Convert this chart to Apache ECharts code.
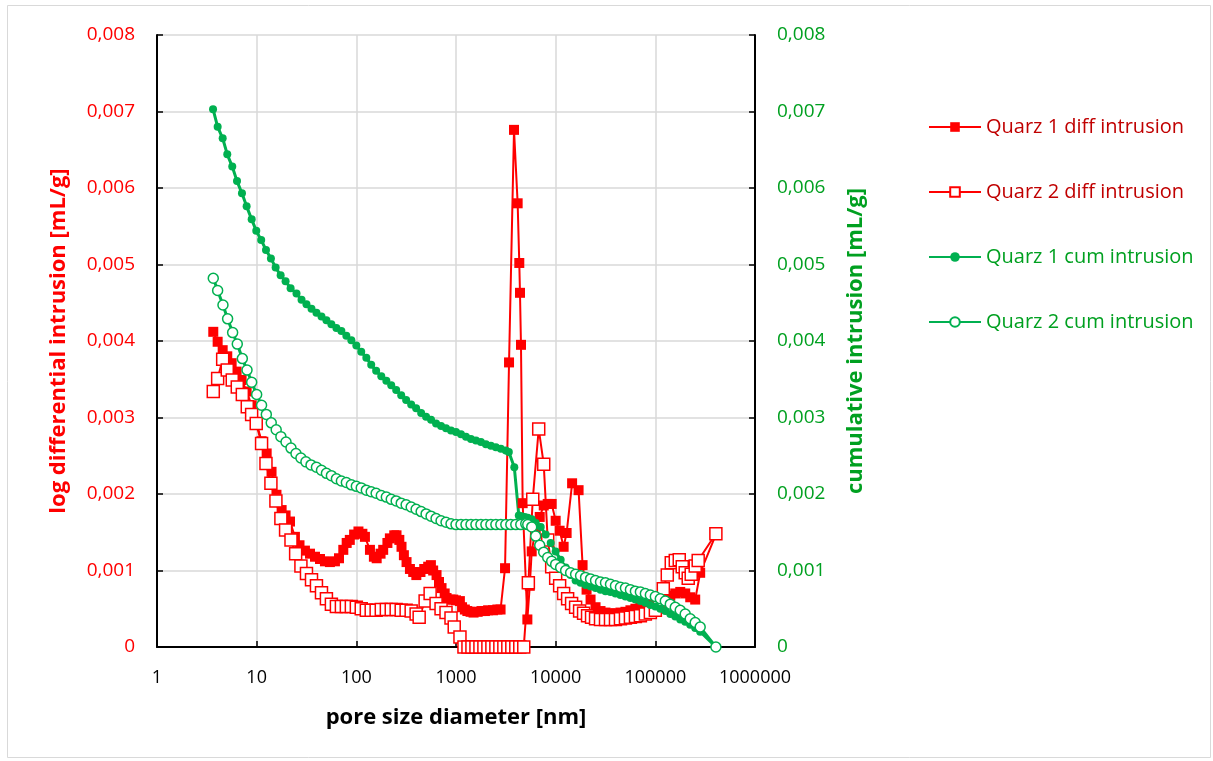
<!DOCTYPE html>
<html>
<head>
<meta charset="utf-8">
<script src="https://cdn.jsdelivr.net/npm/echarts@6/dist/echarts.min.js"></script>
<style>
  html, body { margin: 0; padding: 0; background: #fff; }
  #chart { width: 1213px; height: 761px; }
</style>
</head>
<body>
<div id="chart"></div>
<script>
// pore diameter [nm], value [mL/g]
const q1Diff = [[3.67,0.00412],[4.06,0.00399],[4.56,0.00388],[5.07,0.00380],[5.61,0.00371],[6.29,0.00360],[7.06,0.00349],[7.93,0.00334],[8.91,0.00316],[10.0,0.00292],[11.2,0.00269],[12.6,0.00253],[14.1,0.00229],[15.8,0.00199],[17.8,0.00179],[19.5,0.00172],[21.6,0.00164],[24.2,0.00144],[26.9,0.00133],[30.5,0.00126],[34.3,0.00122],[38.5,0.00118],[43.2,0.00115],[48.4,0.00112],[54.3,0.00111],[61,0.00112],[67,0.00116],[74,0.00127],[80,0.00136],[86,0.00140],[95,0.00147],[105,0.00151],[115,0.00148],[122,0.00144],[137,0.00127],[150,0.00118],[160,0.00116],[175,0.00122],[186,0.00127],[205,0.00136],[217,0.00142],[240,0.00146],[253,0.00146],[270,0.00140],[284,0.00131],[300,0.00120],[319,0.00111],[345,0.00102],[372,0.00098],[400,0.00094],[440,0.00098],[480,0.00102],[526,0.00105],[560,0.00107],[590,0.00100],[638,0.00094],[675,0.00085],[716,0.00077],[770,0.00070],[804,0.00064],[880,0.00062],[938,0.00062],[1000,0.00061],[1094,0.00060],[1150,0.00052],[1227,0.00049],[1300,0.00047],[1400,0.00046],[1500,0.00045],[1650,0.00046],[1800,0.00047],[1950,0.00047],[2100,0.00048],[2350,0.00048],[2600,0.00049],[2800,0.00049],[3105,0.00103],[3405,0.00372],[3820,0.00676],[4155,0.00580],[4315,0.00502],[4385,0.00463],[4487,0.00395],[4665,0.00188],[5200,0.00036],[5500,0.00080],[5750,0.00125],[6310,0.00155],[6920,0.00170],[7590,0.00185],[8320,0.00187],[9120,0.00187],[10000,0.00165],[10960,0.00152],[12020,0.00131],[12880,0.00149],[14620,0.00214],[16980,0.00205],[18620,0.00107],[20420,0.00075],[22390,0.00062],[25120,0.00052],[28180,0.00047],[31620,0.00045],[35480,0.00044],[39810,0.00044],[44670,0.00045],[50120,0.00046],[56230,0.00048],[63100,0.00050],[70790,0.00052],[79430,0.00054],[89130,0.00055],[100000,0.00056],[112200,0.00058],[125900,0.00063],[141300,0.00067],[158500,0.00070],[177800,0.00072],[199500,0.00070],[223900,0.00065],[251200,0.00062],[281800,0.00097],[405000,0.00147]];

const q2Diff = [[3.67,0.00334],[4.06,0.00351],[4.56,0.00376],[5.07,0.00362],[5.69,0.00349],[6.39,0.00340],[7.18,0.00330],[8.05,0.00314],[8.9,0.00304],[9.9,0.00292],[11.2,0.00266],[12.4,0.00240],[13.9,0.00214],[15.6,0.00191],[17.5,0.00168],[19.5,0.00153],[22.1,0.00140],[24.6,0.00122],[27.8,0.00106],[31.6,0.00096],[35.5,0.00088],[39.8,0.00080],[44.7,0.00071],[50.1,0.00063],[56.2,0.00056],[63.1,0.00053],[70.8,0.00053],[79.4,0.00053],[89.1,0.00053],[100,0.00052],[112,0.00050],[126,0.00048],[141,0.00048],[158,0.00048],[178,0.00049],[200,0.00049],[224,0.00049],[251,0.00049],[282,0.00048],[316,0.00048],[355,0.00047],[398,0.00043],[427,0.00039],[490,0.00060],[550,0.00070],[631,0.00057],[708,0.00050],[794,0.00045],[891,0.00038],[960,0.00026],[1096,0.00013],[1202,0],[1318,0],[1445,0],[1585,0],[1738,0],[1905,0],[2089,0],[2291,0],[2512,0],[2754,0],[3020,0],[3311,0],[3631,0],[3981,0],[4365,0],[4786,0],[5320,0.00084],[5890,0.00193],[6760,0.00285],[7590,0.00239],[8320,0.00140],[9120,0.00105],[10000,0.00090],[10960,0.00080],[12020,0.00070],[13180,0.00063],[14450,0.00057],[15850,0.00052],[17380,0.00047],[19050,0.00044],[20890,0.00041],[22910,0.00039],[25120,0.00037],[28180,0.00036],[31620,0.00036],[35480,0.00036],[39810,0.00036],[44670,0.00037],[50120,0.00038],[56230,0.00039],[63100,0.00040],[70790,0.00041],[79430,0.00043],[89130,0.00045],[100000,0.00048],[109600,0.00060],[120200,0.00076],[131800,0.00094],[144500,0.00110],[158500,0.00113],[173800,0.00114],[186200,0.00105],[199500,0.00097],[213800,0.00090],[229100,0.00095],[251200,0.00106],[269200,0.00113],[405000,0.00148]];

const q1Cum = [[3.65,0.00703],[4.06,0.00680],[4.56,0.00665],[5.07,0.00644],[5.69,0.00628],[6.35,0.00609],[7.12,0.00593],[7.93,0.00576],[8.91,0.00559],[9.91,0.00544],[11.1,0.00532],[12.4,0.00519],[13.9,0.00508],[15.5,0.00496],[17.4,0.00486],[19.5,0.00478],[21.9,0.00469],[25.1,0.00462],[28.2,0.00454],[31.6,0.00448],[35.5,0.00442],[39.8,0.00437],[44.7,0.00432],[50.1,0.00427],[56.2,0.00422],[63.1,0.00417],[70.8,0.00413],[79.4,0.00407],[89.1,0.00401],[100,0.00394],[112,0.00386],[126,0.00378],[141,0.00369],[158,0.00361],[178,0.00354],[200,0.00348],[224,0.00342],[251,0.00336],[282,0.00329],[316,0.00323],[355,0.00317],[398,0.00312],[447,0.00306],[501,0.00301],[562,0.00297],[631,0.00292],[708,0.00289],[794,0.00286],[891,0.00283],[1000,0.00281],[1122,0.00278],[1259,0.00275],[1413,0.00272],[1585,0.00270],[1778,0.00268],[1995,0.00265],[2239,0.00263],[2512,0.00261],[2818,0.00259],[3162,0.00257],[3390,0.00255],[3846,0.00235],[4266,0.00172],[4571,0.00171],[4898,0.00170],[5248,0.00169],[5754,0.00167],[6310,0.00162],[7080,0.00157],[7943,0.00147],[8913,0.00136],[10000,0.00125],[11220,0.00114],[12590,0.00104],[14130,0.00094],[15850,0.00087],[17780,0.00084],[19950,0.00081],[22390,0.00079],[25120,0.00077],[28180,0.00075],[31620,0.00073],[35480,0.00072],[39810,0.00070],[44670,0.00068],[50120,0.00066],[56230,0.00064],[63100,0.00062],[70790,0.00060],[79430,0.00058],[89130,0.00055],[100000,0.00053],[112200,0.00050],[125900,0.00047],[141300,0.00043],[158500,0.00040],[177800,0.00036],[199500,0.00033],[223900,0.00029],[251200,0.00025],[281800,0.00020],[405000,0]];

const q2Cum = [[3.67,0.00482],[4.06,0.00466],[4.59,0.00447],[5.11,0.00429],[5.74,0.00411],[6.39,0.00396],[7.18,0.00377],[8.0,0.00362],[8.91,0.00346],[10.0,0.00330],[11.2,0.00316],[12.5,0.00304],[14.0,0.00293],[15.7,0.00284],[17.5,0.00275],[19.7,0.00268],[22.1,0.00260],[24.8,0.00253],[27.8,0.00247],[31.2,0.00242],[35.1,0.00238],[39.8,0.00235],[44.7,0.00231],[50.1,0.00227],[56.2,0.00224],[63.1,0.00220],[70.8,0.00217],[79.4,0.00215],[89.1,0.00212],[100,0.00210],[112,0.00208],[126,0.00205],[141,0.00203],[158,0.00201],[178,0.00198],[200,0.00196],[224,0.00193],[251,0.00191],[282,0.00188],[316,0.00186],[355,0.00183],[398,0.00180],[447,0.00177],[501,0.00174],[562,0.00171],[631,0.00168],[708,0.00165],[794,0.00163],[891,0.00161],[1000,0.00160],[1122,0.00160],[1259,0.00160],[1413,0.00160],[1585,0.00160],[1778,0.00160],[1995,0.00160],[2239,0.00160],[2512,0.00160],[2818,0.00160],[3162,0.00160],[3548,0.00160],[3981,0.00160],[4467,0.00160],[5012,0.00161],[5248,0.00160],[5754,0.00157],[6310,0.00145],[6918,0.00133],[7586,0.00124],[8318,0.00117],[9120,0.00112],[10000,0.00108],[11220,0.00104],[12590,0.00100],[14130,0.00097],[15850,0.00095],[17780,0.00093],[19950,0.00091],[22390,0.00089],[25120,0.00087],[28180,0.00085],[31620,0.00084],[35480,0.00082],[39810,0.00080],[44670,0.00078],[50120,0.00077],[56230,0.00075],[63100,0.00073],[70790,0.00072],[79430,0.00070],[89130,0.00068],[100000,0.00066],[112200,0.00063],[125900,0.00060],[141300,0.00056],[158500,0.00052],[177800,0.00048],[199500,0.00043],[223900,0.00037],[251200,0.00032],[281800,0.00026],[405000,0]];

const seriesNames = ["Quarz 1 diff intrusion", "Quarz 2 diff intrusion", "Quarz 1 cum intrusion", "Quarz 2 cum intrusion"];

const RED = "#FF0000";
const GREEN = "#00B050";
const LABEL_GREEN = "#00A020";
const FONT = "Open Sans";

const chart = echarts.init(document.getElementById("chart"));

const yFmt = (v) => (v === 0 ? "0" : v.toFixed(3).replace(".", ","));

const option = {
  animation: false,
  backgroundColor: "#fff",
  textStyle: { fontFamily: FONT },
  graphic: [
    {
      type: "rect",
      shape: { x: 7.5, y: 5.5, width: 1203, height: 752 },
      style: { fill: "none", stroke: "#D9D9D9", lineWidth: 1 },
      silent: true,
    },
  ],
  grid: { left: 157, right: 458, top: 35, bottom: 114 },
  legend: {
    orient: "vertical",
    left: 923,
    top: 108,
    padding: 5,
    itemWidth: 52,
    itemHeight: 12,
    itemGap: 37,
    textStyle: { fontSize: 20, fontFamily: FONT, lineHeight: 28 },
    data: [
      { name: seriesNames[0], textStyle: { color: "#C00000" } },
      { name: seriesNames[1], textStyle: { color: "#C00000" } },
      { name: seriesNames[2], textStyle: { color: LABEL_GREEN } },
      { name: seriesNames[3], textStyle: { color: LABEL_GREEN } },
    ],
  },
  xAxis: {
    type: "log",
    logBase: 10,
    min: 1,
    max: 1000000,
    name: "pore size diameter [nm]",
    nameLocation: "middle",
    nameGap: 60,
    nameTextStyle: { fontSize: 22, fontWeight: "bold", color: "#000", fontFamily: FONT },
    axisLine: { lineStyle: { color: "#000", width: 2 } },
    axisTick: { inside: true, length: 6, lineStyle: { color: "#000", width: 1.5 } },
    axisLabel: {
      color: "#000",
      fontSize: 18,
      margin: 22,
      fontFamily: FONT,
      formatter: (v) => String(Math.round(v)),
    },
    splitLine: { show: true, lineStyle: { color: "#D9D9D9", width: 1.5 } },
  },
  yAxis: [
    {
      type: "value",
      min: 0,
      max: 0.008,
      interval: 0.001,
      name: "log differential intrusion [mL/g]",
      nameLocation: "middle",
      nameGap: 87,
      nameTextStyle: { fontSize: 22, fontWeight: "bold", color: RED, fontFamily: FONT },
      axisLine: { show: true, lineStyle: { color: "#000", width: 2 } },
      axisTick: { show: true, inside: true, length: 6, lineStyle: { color: "#000", width: 1.5 } },
      axisLabel: { color: RED, fontSize: 19, margin: 22, fontFamily: FONT, formatter: yFmt },
      splitLine: { show: true, lineStyle: { color: "#D9D9D9", width: 1.5 } },
    },
    {
      type: "value",
      min: 0,
      max: 0.008,
      interval: 0.001,
      position: "right",
      name: "cumulative intrusion [mL/g]",
      nameLocation: "middle",
      nameGap: 90,
      nameRotate: 90,
      nameTextStyle: { fontSize: 22, fontWeight: "bold", color: LABEL_GREEN, fontFamily: FONT },
      axisLine: { show: true, lineStyle: { color: "#000", width: 2 } },
      axisTick: { show: true, inside: true, length: 6, lineStyle: { color: "#000", width: 1.5 } },
      axisLabel: { color: LABEL_GREEN, fontSize: 19, margin: 22, fontFamily: FONT, formatter: yFmt },
      splitLine: { show: false },
    },
  ],
  series: [
    {
      name: seriesNames[0],
      type: "line",
      yAxisIndex: 0,
      data: q1Diff,
      symbol: "rect",
      symbolSize: 10,
      lineStyle: { color: RED, width: 2 },
      itemStyle: { color: RED },
    },
    {
      name: seriesNames[1],
      type: "line",
      yAxisIndex: 0,
      data: q2Diff,
      symbol: "rect",
      symbolSize: 12,
      lineStyle: { color: RED, width: 2 },
      itemStyle: { color: "#fff", borderColor: RED, borderWidth: 1.5 },
    },
    {
      name: seriesNames[2],
      type: "line",
      yAxisIndex: 1,
      data: q1Cum,
      symbol: "circle",
      symbolSize: 8,
      lineStyle: { color: GREEN, width: 3 },
      itemStyle: { color: GREEN },
    },
    {
      name: seriesNames[3],
      type: "line",
      yAxisIndex: 1,
      data: q2Cum,
      symbol: "circle",
      symbolSize: 10,
      lineStyle: { color: GREEN, width: 3 },
      itemStyle: { color: "#fff", borderColor: GREEN, borderWidth: 1.5 },
    },
  ],
};

chart.setOption(option);
</script>
</body>
</html>
